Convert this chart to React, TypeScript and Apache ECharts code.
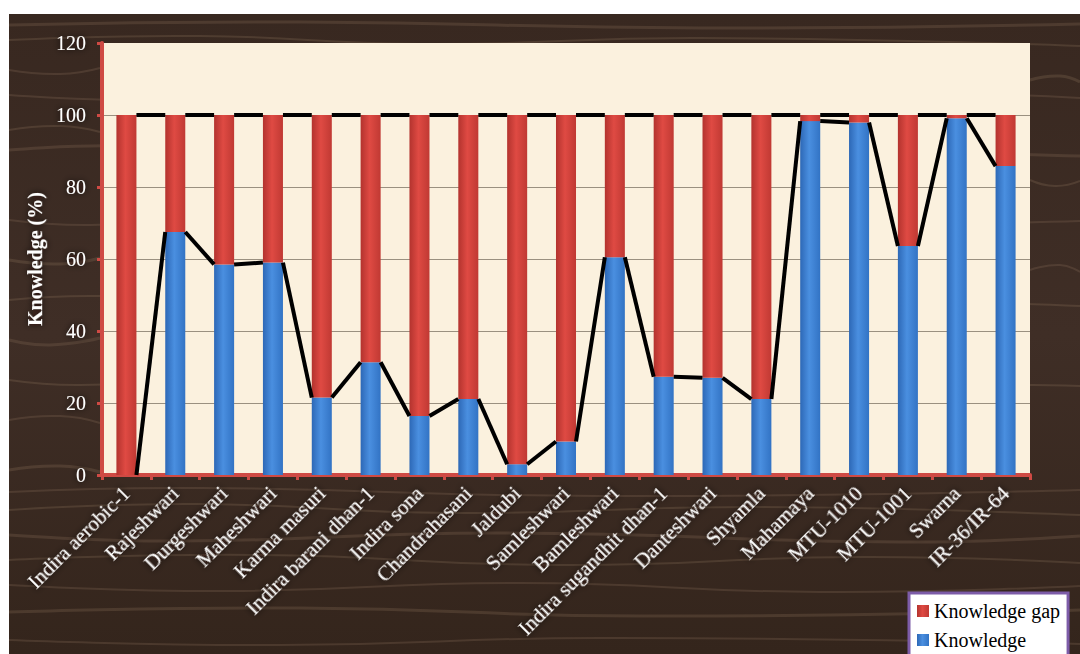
import React, { useEffect, useRef } from "react";
import * as echarts from "echarts";

const categories = [
  "Indira aerobic-1", "Rajeshwari", "Durgeshwari", "Maheshwari", "Karma masuri",
  "Indira barani dhan-1", "Indira sona", "Chandrahasani", "Jaldubi", "Samleshwari",
  "Bamleshwari", "Indira sugandhit dhan-1", "Danteshwari", "Shyamla", "Mahamaya",
  "MTU-1010", "MTU-1001", "Swarna", "IR-36/IR-64",
];
const knowledge = [0, 67.5, 58.5, 59, 21.5, 31.3, 16.4, 21.1, 3, 9.3, 60.5, 27.3, 27, 21.1, 98.3, 97.9, 63.6, 99.1, 85.8];
const knowledgeGap = knowledge.map((v) => +(100 - v).toFixed(1));
const yTicks = { min: 0, max: 120, interval: 20 };

const BAR_RATIO = 0.41;

const redGrad = new echarts.graphic.LinearGradient(0, 0, 1, 0, [
  { offset: 0, color: "#b3332e" },
  { offset: 0.45, color: "#df4a43" },
  { offset: 1, color: "#c03933" },
]);
const blueGrad = new echarts.graphic.LinearGradient(0, 0, 1, 0, [
  { offset: 0, color: "#2d68b6" },
  { offset: 0.45, color: "#4a8fe0" },
  { offset: 1, color: "#3273c4" },
]);

function seriesLineData(vals: number[]) {
  const out: number[][] = [];
  for (let i = 0; i < vals.length - 1; i++) out.push([i, vals[i], vals[i + 1]]);
  return out;
}

const streaks: number[][][] = [
  [[9, 25], [300, 22], [700, 28], [1080, 24]],
  [[9, 40], [200, 36], [420, 44], [700, 38], [1080, 46]],
  [[9, 70], [60, 74], [100, 68]],
  [[1030, 80], [1060, 76], [1080, 82]],
  [[9, 95], [150, 100], [380, 92], [620, 99], [900, 93], [1080, 98]],
  [[9, 130], [60, 126], [100, 132]],
  [[9, 150], [120, 146], [300, 155], [600, 148], [1080, 156]],
  [[1030, 180], [1055, 186], [1080, 181]],
  [[9, 220], [90, 225], [250, 218], [700, 226], [1080, 221]],
  [[9, 260], [60, 264], [100, 258]],
  [[1030, 270], [1060, 265], [1080, 272]],
  [[9, 300], [100, 296], [400, 305], [800, 299], [1080, 306]],
  [[9, 340], [50, 345], [100, 338]],
  [[9, 380], [80, 385], [300, 378], [1080, 386]],
  [[9, 420], [60, 416], [100, 423]],
  [[9, 470], [60, 466], [100, 472]],
  [[9, 492], [200, 488], [600, 496], [1080, 490]],
  [[9, 510], [200, 504], [450, 513], [760, 507], [1080, 515]],
  [[9, 535], [180, 541], [500, 533], [900, 542], [1080, 536]],
  [[9, 560], [260, 555], [560, 565], [860, 557], [1080, 563]],
  [[9, 585], [230, 591], [520, 583], [820, 592], [1080, 586]],
  [[9, 612], [300, 608], [640, 616], [1080, 610]],
  [[9, 640], [280, 645], [600, 638], [1080, 644]],
];

export default function App() {
  const ref = useRef<HTMLDivElement>(null);
  useEffect(() => {
    if (!ref.current) return;
    const chart = echarts.init(ref.current, null, { renderer: "svg" });
    const shadow = { textShadowColor: "rgba(20,10,5,0.95)", textShadowBlur: 6 };
    const makeLineSeries = (vals: number[]) => ({
      type: "custom",
      silent: true,
      z: 5,
      data: seriesLineData(vals),
      encode: { x: 0, y: [1, 2] },
      renderItem: (params: any, api: any) => {
        const i = api.value(0);
        const bw = api.size([1, 0])[0];
        const half = (bw * BAR_RATIO) / 2;
        const p1 = api.coord([i, api.value(1)]);
        const p2 = api.coord([i + 1, api.value(2)]);
        return {
          type: "line",
          shape: { x1: p1[0] + half, y1: p1[1], x2: p2[0] - half, y2: p2[1] },
          style: { stroke: "#000", lineWidth: 4 },
        };
      },
    });
    chart.setOption({
      animation: false,
      backgroundColor: "#ffffff",
      textStyle: { fontFamily: "'Liberation Serif', 'DejaVu Serif', serif" },
      graphic: [
        {
          type: "rect",
          z: -10,
          silent: true,
          shape: { x: 9, y: 14, width: 1071, height: 640 },
          style: {
            fill: new echarts.graphic.LinearGradient(0, 0, 0, 1, [
              { offset: 0, color: "#382820" },
              { offset: 0.5, color: "#3f2e26" },
              { offset: 1, color: "#34251c" },
            ]),
          },
        },
        ...streaks.map((pts, k) => ({
          type: "polyline",
          z: -9,
          silent: true,
          shape: { points: pts, smooth: 0.5 },
          style: { stroke: k % 2 ? "rgba(160,130,105,0.22)" : "rgba(125,100,80,0.32)", lineWidth: k % 3 === 0 ? 3 : 2, fill: null },
        })),
      ],
      grid: {
        left: 102,
        right: 50,
        top: 43,
        bottom: 179,
        show: true,
        backgroundColor: "#fbf1de",
        borderWidth: 0,
      },
      legend: {
        orient: "vertical",
        left: 909,
        top: 593,
        width: 170,
        height: 90,
        data: ["Knowledge gap", "Knowledge"],
        backgroundColor: "#ffffff",
        borderColor: "#7d5ca8",
        borderWidth: 3,
        borderRadius: 0,
        padding: [8, 8, 14, 8],
        itemGap: 9,
        itemWidth: 12,
        itemHeight: 12,
        icon: "rect",
        textStyle: { color: "#000", fontSize: 20, fontFamily: "'Liberation Serif', serif" },
      },
      xAxis: {
        type: "category",
        data: categories,
        axisLine: { lineStyle: { color: "#cf4a44", width: 4 } },
        axisTick: { show: true, length: 5, lineStyle: { color: "#cf4a44", width: 3 } },
        axisLabel: {
          rotate: 45,
          interval: 0,
          color: "#ffffff",
          fontSize: 21,
          margin: 15,
          fontFamily: "'Liberation Serif', serif",
          ...shadow,
        },
      },
      yAxis: {
        type: "value",
        min: yTicks.min,
        max: yTicks.max,
        interval: yTicks.interval,
        name: "Knowledge (%)",
        nameLocation: "middle",
        nameGap: 54,
        nameTextStyle: { color: "#ffffff", fontSize: 20, fontWeight: "bold", fontFamily: "'Liberation Serif', serif", ...shadow },
        axisLine: { show: true, lineStyle: { color: "#cf4a44", width: 4 } },
        axisTick: { show: true, length: 5, lineStyle: { color: "#cf4a44", width: 3 } },
        axisLabel: { color: "#ffffff", fontSize: 20, margin: 16, fontFamily: "'Liberation Serif', serif", ...shadow },
        splitLine: { show: true, showMaxLine: false, lineStyle: { color: "#9a9080", width: 1 } },
      },
      series: [
        {
          name: "Knowledge",
          type: "bar",
          stack: "t",
          barWidth: BAR_RATIO * 100 + "%",
          data: knowledge,
          itemStyle: { color: blueGrad },
        },
        {
          name: "Knowledge gap",
          type: "bar",
          stack: "t",
          barWidth: BAR_RATIO * 100 + "%",
          data: knowledgeGap,
          itemStyle: { color: redGrad },
        },
        makeLineSeries(knowledge),
        makeLineSeries(knowledge.map((v, i) => v + knowledgeGap[i])),
      ],
    });
    return () => chart.dispose();
  }, []);
  return <div ref={ref} style={{ position: "fixed", left: 0, top: 0, width: 1080, height: 654 }} />;
}
